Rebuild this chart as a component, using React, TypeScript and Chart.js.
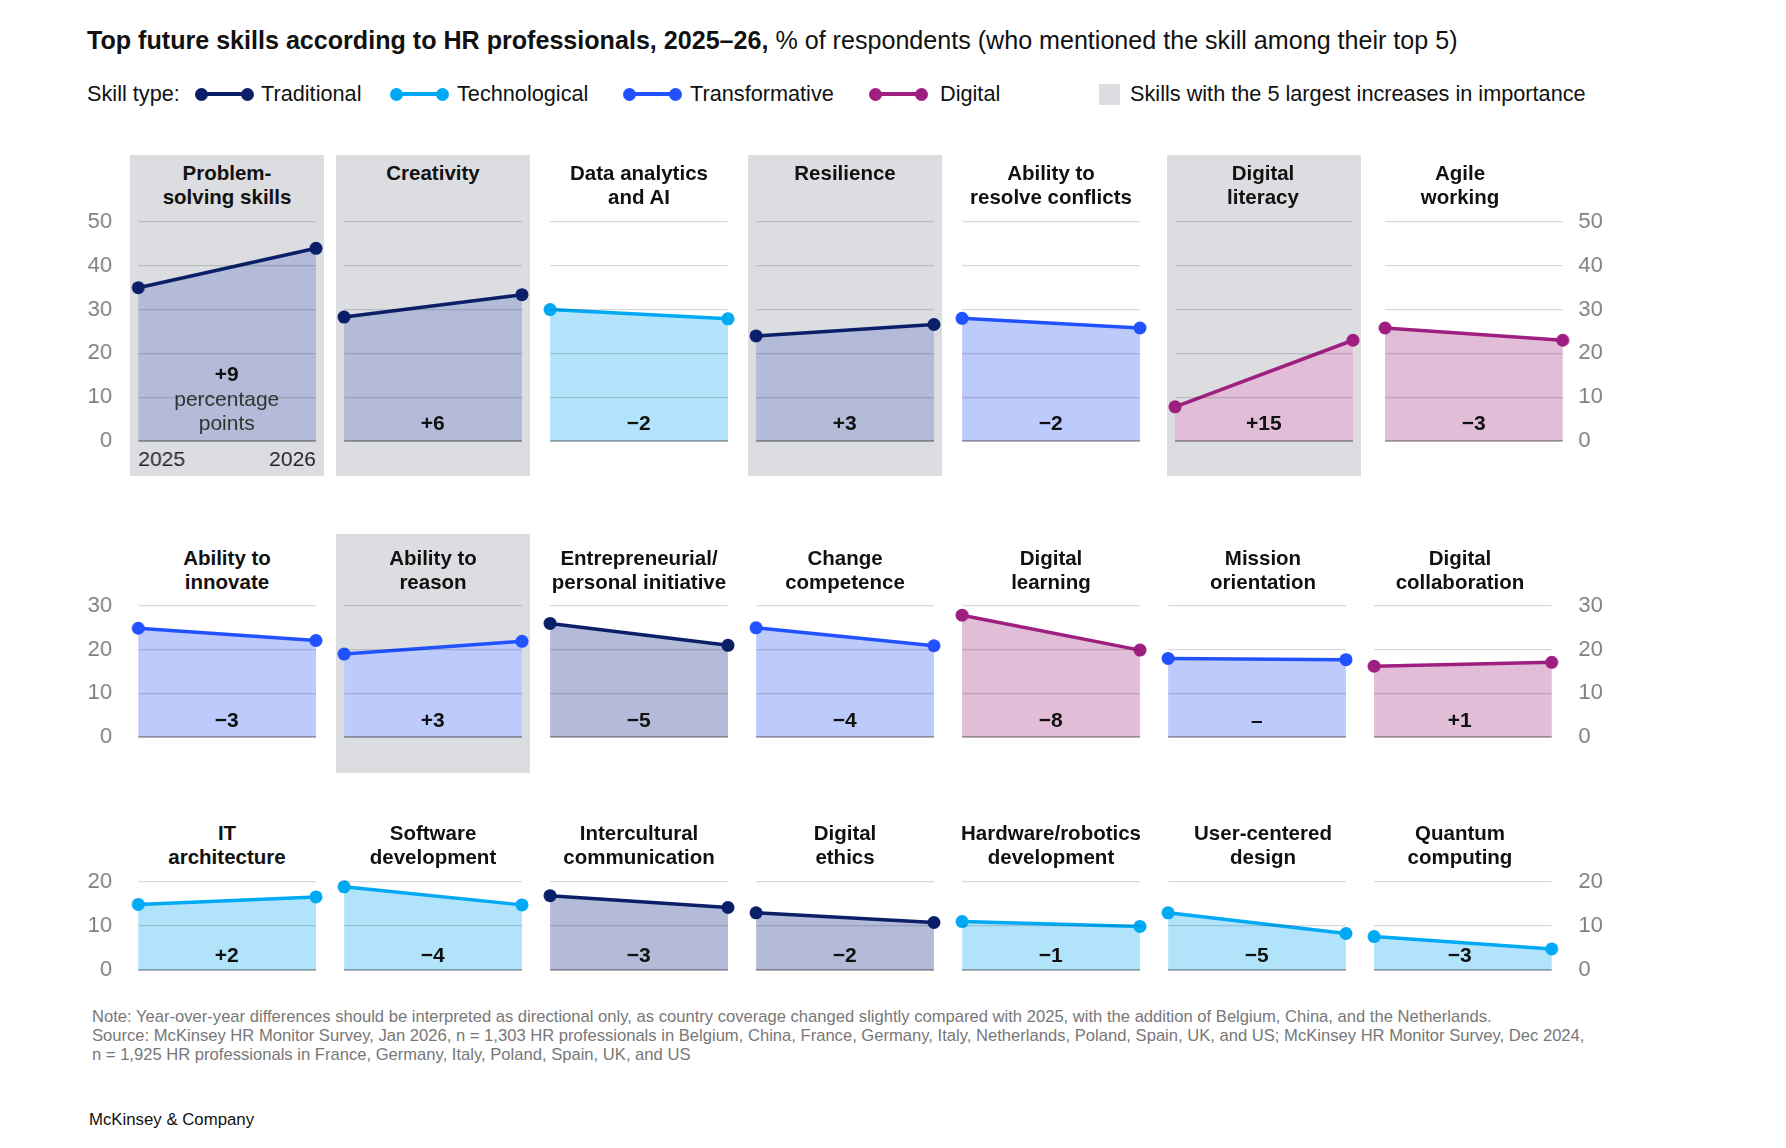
import React, { useEffect, useRef } from "react";
import { Chart, registerables } from "chart.js";

Chart.register(...registerables);

// ---------- data ----------
const years = ["2025", "2026"];
const skillTypeNames = ["Traditional", "Technological", "Transformative", "Digital"];

const titlesRow1 = ["Problem-\nsolving skills", "Creativity", "Data analytics\nand AI", "Resilience", "Ability to\nresolve conflicts", "Digital\nliteracy", "Agile\nworking"];
const titlesRow2 = ["Ability to\ninnovate", "Ability to\nreason", "Entrepreneurial/\npersonal initiative", "Change\ncompetence", "Digital\nlearning", "Mission\norientation", "Digital\ncollaboration"];
const titlesRow3 = ["IT\narchitecture", "Software\ndevelopment", "Intercultural\ncommunication", "Digital\nethics", "Hardware/robotics\ndevelopment", "User-centered\ndesign", "Quantum\ncomputing"];

const values2025Row1 = [35, 28.3, 30, 24, 28, 7.8, 25.8];
const values2026Row1 = [44, 33.4, 27.9, 26.6, 25.8, 23, 23];
const values2025Row2 = [24.9, 19, 26, 25, 27.9, 18, 16.2];
const values2026Row2 = [22.1, 21.9, 21, 20.9, 19.9, 17.7, 17.1];
const values2025Row3 = [14.9, 18.9, 16.9, 13, 11, 13, 7.6];
const values2026Row3 = [16.6, 14.8, 14.2, 10.8, 9.9, 8.3, 4.8];

const typesRow1 = ["Traditional", "Traditional", "Technological", "Traditional", "Transformative", "Digital", "Digital"];
const typesRow2 = ["Transformative", "Transformative", "Traditional", "Transformative", "Digital", "Transformative", "Digital"];
const typesRow3 = ["Technological", "Technological", "Traditional", "Traditional", "Technological", "Technological", "Technological"];

const changeRow1 = ["+9", "+6", "\u22122", "+3", "\u22122", "+15", "\u22123"];
const changeRow2 = ["\u22123", "+3", "\u22125", "\u22124", "\u22128", "\u2013", "+1"];
const changeRow3 = ["+2", "\u22124", "\u22123", "\u22122", "\u22121", "\u22125", "\u22123"];

const highlightRow1 = [true, true, false, true, false, true, false];
const highlightRow2 = [false, true, false, false, false, false, false];
const highlightRow3 = [false, false, false, false, false, false, false];

const yMaxByRow = [50, 30, 20];

// ---------- layout / styles ----------
const FONT = '"Liberation Sans", Arial, sans-serif';
const lineColors: Record<string, string> = {
  Traditional: "#0b1f68",
  Technological: "#00a9f4",
  Transformative: "#2251ff",
  Digital: "#9e1f7f",
};
const fillColors: Record<string, string> = {
  Traditional: "#b3bbd8",
  Technological: "#b1e4fa",
  Transformative: "#bdcafc",
  Digital: "#e1bdd7",
};

const plotLeftsByRow = [
  [138, 344, 550, 756, 962, 1175, 1385],
  [138, 344, 550, 756, 962, 1168, 1374],
  [138, 344, 550, 756, 962, 1168, 1374],
];
const titleCenters = [227, 433, 639, 845, 1051, 1263, 1460];
const PLOT_W = 177.5;
const PAD = 16;
const AXIS_LEFT_W = 60;
const AXIS_RIGHT_W = 60;
const X_AXIS_H = 34;
const RIGHT_LABEL_X = 1578;

const rowLayout = [
  { top: 222, zero: 441, titleTop: 161, grayTop: 155, grayBottom: 476, changeY: 423 },
  { top: 606, zero: 737, titleTop: 546, grayTop: 534, grayBottom: 773, changeY: 720 },
  { top: 882, zero: 970, titleTop: 821, grayTop: 812, grayBottom: 1000, changeY: 955 },
];

type PanelProps = {
  row: number;
  col: number;
  title: string;
  v25: number;
  v26: number;
  type: string;
  change: string;
  highlight: boolean;
};

function Panel({ row, col, title, v25, v26, type, change, highlight }: PanelProps) {
  const ref = useRef<HTMLCanvasElement | null>(null);
  const L = rowLayout[row];
  const plotLeft = plotLeftsByRow[row][col];
  const showLeftAxis = col === 0;
  const showRightAxis = col === 6;
  const showX = row === 0 && col === 0;
  const rightPad = RIGHT_LABEL_X - (plotLeft + PLOT_W);
  const axisW = showLeftAxis ? AXIS_LEFT_W : showRightAxis ? AXIS_RIGHT_W : 0;
  const canvasLeft = plotLeft - PAD - (showLeftAxis ? AXIS_LEFT_W : 0);
  const canvasTop = L.top - PAD;
  const canvasW = PLOT_W + 2 * PAD + axisW;
  const canvasH = L.zero - L.top + 2 * PAD + (showX ? X_AXIS_H : 0);
  const yMax = yMaxByRow[row];

  useEffect(() => {
    if (!ref.current) return;
    const chart = new Chart(ref.current, {
      type: "line",
      data: {
        labels: years,
        datasets: [
          {
            data: [v25, v26],
            borderColor: lineColors[type],
            backgroundColor: fillColors[type],
            fill: "origin",
            borderWidth: 3.5,
            tension: 0,
            pointRadius: 6.5,
            pointHoverRadius: 6.5,
            pointBorderWidth: 0,
            pointBackgroundColor: lineColors[type],
            clip: false as any,
          },
        ],
      },
      options: {
        animation: false,
        responsive: false,
        maintainAspectRatio: false,
        events: [],
        layout: { padding: { top: PAD, bottom: PAD, left: PAD, right: PAD } },
        plugins: { legend: { display: false }, tooltip: { enabled: false } },
        scales: {
          x: {
            type: "category",
            offset: false,
            display: showX,
            grid: { display: false, drawTicks: false },
            border: { display: false },
            ticks: {
              align: "inner",
              padding: 7,
              maxRotation: 0,
              autoSkip: false,
              color: "#222",
              font: { family: FONT, size: 21 },
            },
            afterFit: (s: any) => {
              s.height = showX ? X_AXIS_H : 0;
              s.paddingLeft = 0;
              s.paddingRight = 0;
            },
          },
          y: {
            position: showRightAxis ? "right" : "left",
            min: 0,
            max: yMax,
            display: true,
            ticks: {
              display: showLeftAxis || showRightAxis,
              stepSize: 10,
              autoSkip: false,
              padding: showLeftAxis ? 26 : rightPad,
              color: "#808080",
              font: { family: FONT, size: 22 },
            },
            grid: {
              drawTicks: false,
              z: 1,
              color: (ctx: any) => (ctx.tick && ctx.tick.value === 0 ? "rgba(0,0,0,0.30)" : "rgba(0,0,0,0.15)"),
              lineWidth: (ctx: any) => (ctx.tick && ctx.tick.value === 0 ? 2 : 1.2),
            },
            border: { display: false },
            afterFit: (s: any) => {
              s.width = axisW;
              s.paddingTop = 0;
              s.paddingBottom = 0;
            },
          },
        },
      },
    } as any);
    return () => chart.destroy();
  }, [v25, v26, type, yMax, showX, showLeftAxis, showRightAxis, axisW, rightPad]);

  const lines = title.split("\n");
  const isFirst = row === 0 && col === 0;
  const tc = titleCenters[col];
  return (
    <>
      {highlight && (
        <div
          style={{
            position: "absolute",
            left: plotLeft - 8,
            top: L.grayTop,
            width: PLOT_W + 16,
            height: L.grayBottom - L.grayTop,
            background: "#dcdde0",
          }}
        />
      )}
      <div
        style={{
          position: "absolute",
          left: tc - 120,
          width: 240,
          top: L.titleTop,
          textAlign: "center",
          fontFamily: FONT,
          fontWeight: 700,
          fontSize: 20.5,
          lineHeight: "24px",
          color: "#111",
          whiteSpace: "nowrap",
        }}
      >
        {lines.map((t, i) => (
          <div key={i}>{t}</div>
        ))}
      </div>
      <canvas
        ref={ref}
        width={canvasW}
        height={canvasH}
        style={{ position: "absolute", left: canvasLeft, top: canvasTop, width: canvasW, height: canvasH }}
      />
      {isFirst ? (
        <div
          style={{
            position: "absolute",
            left: plotLeft - 10,
            width: PLOT_W + 20,
            top: 362,
            textAlign: "center",
            fontFamily: FONT,
            fontSize: 21,
            lineHeight: "24.5px",
            color: "#333",
          }}
        >
          <div style={{ fontWeight: 700, fontSize: 21, color: "#111" }}>{change}</div>
          <div>percentage</div>
          <div>points</div>
        </div>
      ) : (
        <div
          style={{
            position: "absolute",
            left: plotLeft - (col === 6 && row > 0 ? 3 : 0),
            width: PLOT_W,
            top: L.changeY - 12,
            textAlign: "center",
            fontFamily: FONT,
            fontWeight: 700,
            fontSize: 21,
            lineHeight: "24px",
            color: "#111",
          }}
        >
          {change}
        </div>
      )}
    </>
  );
}

function LegendMarker({ left, color }: { left: number; color: string }) {
  return (
    <div style={{ position: "absolute", left, top: 94 - 7, width: 59, height: 14 }}>
      <div style={{ position: "absolute", left: 6, right: 6, top: 5.25, height: 3.5, background: color }} />
      <div style={{ position: "absolute", left: 0, top: 0.5, width: 13, height: 13, borderRadius: "50%", background: color }} />
      <div style={{ position: "absolute", right: 0, top: 0.5, width: 13, height: 13, borderRadius: "50%", background: color }} />
    </div>
  );
}

export default function App() {
  useEffect(() => {
    document.body.style.margin = "0";
  }, []);

  const rows = [
    { titles: titlesRow1, a: values2025Row1, b: values2026Row1, types: typesRow1, changes: changeRow1, hl: highlightRow1 },
    { titles: titlesRow2, a: values2025Row2, b: values2026Row2, types: typesRow2, changes: changeRow2, hl: highlightRow2 },
    { titles: titlesRow3, a: values2025Row3, b: values2026Row3, types: typesRow3, changes: changeRow3, hl: highlightRow3 },
  ];

  const legendText = (left: number, text: string) => (
    <div
      style={{
        position: "absolute",
        left,
        top: 94 - 13,
        fontFamily: FONT,
        fontSize: 21.7,
        lineHeight: "26px",
        color: "#111",
        whiteSpace: "nowrap",
      }}
    >
      {text}
    </div>
  );

  const markerLefts = [195, 390, 623, 869];
  const textLefts = [261, 457, 690, 940];

  return (
    <div style={{ position: "absolute", left: 0, top: 0, width: 1786, height: 1148, background: "#fff", overflow: "hidden" }}>
      <div
        style={{
          position: "absolute",
          left: 87,
          top: 40 - 15,
          fontFamily: FONT,
          fontSize: 25.1,
          lineHeight: "30px",
          color: "#111",
          whiteSpace: "nowrap",
        }}
      >
        <span style={{ fontWeight: 700 }}>Top future skills according to HR professionals, 2025–26,</span>
        <span> % of respondents (who mentioned the skill among their top 5)</span>
      </div>

      {legendText(87, "Skill type:")}
      {skillTypeNames.map((n, i) => (
        <React.Fragment key={n}>
          <LegendMarker left={markerLefts[i]} color={lineColors[n]} />
          {legendText(textLefts[i], n)}
        </React.Fragment>
      ))}
      <div style={{ position: "absolute", left: 1099, top: 84, width: 21, height: 21, background: "#dcdde0" }} />
      {legendText(1130, "Skills with the 5 largest increases in importance")}

      {rows.map((r, ri) =>
        r.titles.map((t, ci) => (
          <Panel
            key={`${ri}-${ci}`}
            row={ri}
            col={ci}
            title={t}
            v25={r.a[ci]}
            v26={r.b[ci]}
            type={r.types[ci]}
            change={r.changes[ci]}
            highlight={r.hl[ci]}
          />
        ))
      )}

      <div
        style={{
          position: "absolute",
          left: 92,
          top: 1007,
          fontFamily: FONT,
          fontSize: 16.6,
          lineHeight: "19px",
          color: "#777",
          whiteSpace: "nowrap",
        }}
      >
        <div>
          Note: Year-over-year differences should be interpreted as directional only, as country coverage changed slightly compared with 2025, with the addition of Belgium, China, and the Netherlands.
        </div>
        <div>
          Source: McKinsey HR Monitor Survey, Jan 2026, n = 1,303 HR professionals in Belgium, China, France, Germany, Italy, Netherlands, Poland, Spain, UK, and US; McKinsey HR Monitor Survey, Dec 2024,
        </div>
        <div>n = 1,925 HR professionals in France, Germany, Italy, Poland, Spain, UK, and US</div>
      </div>
      <div
        style={{
          position: "absolute",
          left: 89,
          top: 1110,
          fontFamily: FONT,
          fontSize: 16.8,
          lineHeight: "20px",
          color: "#111",
          whiteSpace: "nowrap",
        }}
      >
        McKinsey &amp; Company
      </div>
    </div>
  );
}
